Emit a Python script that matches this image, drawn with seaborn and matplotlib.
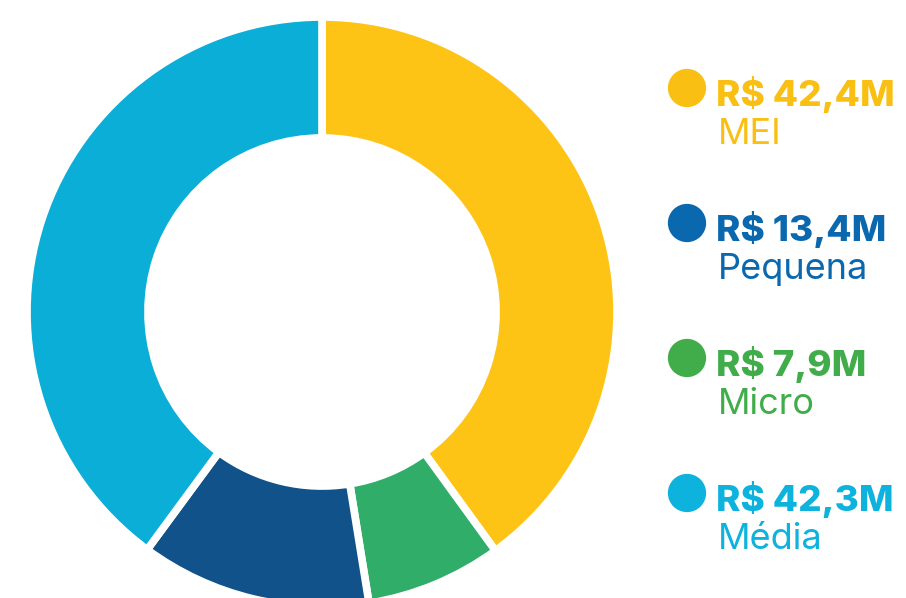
import matplotlib
matplotlib.use('Agg')
import matplotlib.pyplot as plt
import seaborn as sns

# data
categorias = ['MEI', 'Micro', 'Pequena', 'Média']
valores = [42.4, 7.9, 13.4, 42.3]
cores_fatia = ['#FDC315', '#30AD68', '#11528B', '#0BAED6']

legenda_ordem = ['MEI', 'Pequena', 'Micro', 'Média']
legenda_valores = ['R$ 42,4M', 'R$ 13,4M', 'R$ 7,9M', 'R$ 42,3M']
legenda_cores = ['#F9C013', '#0A68AF', '#40AD4A', '#0DB3DC']

sns.set_theme(style='white')
plt.rcParams['font.family'] = ['Inter', 'DejaVu Sans']

W, H = 906, 598
fig = plt.figure(figsize=(W / 100, H / 100), dpi=100)

# donut
cx, cy, r = 322, 312, 295
ax = fig.add_axes([(cx - r) / W, (H - cy - r) / H, 2 * r / W, 2 * r / H])
ax.pie(valores, colors=cores_fatia, startangle=90, counterclock=False,
       wedgeprops=dict(width=0.41, edgecolor='white', linewidth=5.5))
ax.set_xlim(-1, 1)
ax.set_ylim(-1, 1)
ax.axis('off')

# legend
lx = fig.add_axes([0, 0, 1, 1])
lx.set_xlim(0, W)
lx.set_ylim(H, 0)
lx.axis('off')
y0, step = 106, 135
for i, (nome, val, cor) in enumerate(zip(legenda_ordem, legenda_valores, legenda_cores)):
    yb = y0 + i * step
    lx.scatter([687], [yb - 18], s=760, color=cor, edgecolors='none')
    lx.text(716, yb, val, color=cor, fontsize=26.5, fontweight='heavy', va='baseline', ha='left')
    lx.text(718, yb + 38, nome, color=cor, fontsize=26, fontweight='normal', va='baseline', ha='left')

fig.savefig('out.png', dpi=100)
